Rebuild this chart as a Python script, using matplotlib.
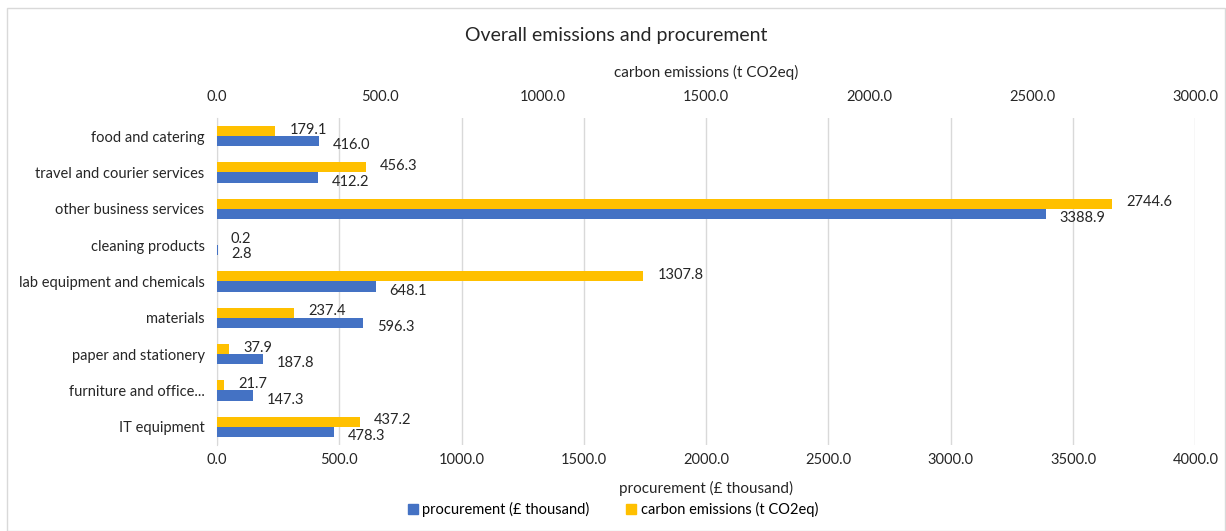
import numpy as np
import matplotlib.pyplot as plt
from matplotlib.patches import Rectangle

plt.rcParams['font.family'] = ['Lato', 'DejaVu Sans']

categories = ['food and catering', 'travel and courier services', 'other business services',
              'cleaning products', 'lab equipment and chemicals', 'materials',
              'paper and stationery', 'furniture and office...', 'IT equipment']
procurement = [416.0, 412.2, 3388.9, 2.8, 648.1, 596.3, 187.8, 147.3, 478.3]
carbon = [179.1, 456.3, 2744.6, 0.2, 1307.8, 237.4, 37.9, 21.7, 437.2]

blue = '#4472C4'
yellow = '#FFC000'
txt = '#262626'

fig = plt.figure(figsize=(12.26, 5.31), dpi=100)
ax = fig.add_axes([0.177, 0.162, 0.798, 0.616])
ax2 = ax.twiny()

y = np.arange(len(categories))
h = 0.28

# procurement on the bottom axis, carbon on the top axis
ax.barh(y + h / 2, procurement, height=h, color=blue, zorder=3)
ax2.barh(y - h / 2, carbon, height=h, color=yellow, zorder=3)

for yi, v in zip(y, procurement):
    ax.annotate(f'{v:.1f}', (v, yi + h / 2), xytext=(10, -3), textcoords='offset points',
                va='center', ha='left', fontsize=10.5, color=txt)
for yi, v in zip(y, carbon):
    ax2.annotate(f'{v:.1f}', (v, yi - h / 2), xytext=(10, 1), textcoords='offset points',
                 va='center', ha='left', fontsize=10.5, color=txt)

ax.set_xlim(0, 4000)
ax2.set_xlim(0, 3000)
ax.set_ylim(len(categories) - 0.5, -0.5)
ax.set_xticks(np.arange(0, 4001, 500))
ax2.set_xticks(np.arange(0, 3001, 500))
ax.set_xticklabels([f'{t:.1f}' for t in np.arange(0, 4001, 500)])
ax2.set_xticklabels([f'{t:.1f}' for t in np.arange(0, 3001, 500)])
ax.set_yticks(y)
ax.set_yticklabels(categories)

for a in (ax, ax2):
    a.tick_params(length=0, labelsize=10.5, colors=txt)
    for s in a.spines.values():
        s.set_visible(False)
ax.tick_params(axis='y', pad=9)
ax.tick_params(axis='x', pad=6)
ax2.tick_params(axis='x', pad=10)
ax.spines['left'].set_visible(True)
ax.spines['left'].set_color('#D9D9D9')
ax.xaxis.grid(True, color='#D9D9D9', linewidth=1, zorder=0)
ax.set_axisbelow(True)

ax.set_xlabel('procurement (£ thousand)', fontsize=11, color=txt, labelpad=10)
ax2.set_xlabel('carbon emissions (t CO2eq)', fontsize=11, color=txt, labelpad=9)

fig.text(0.503, 0.934, 'Overall emissions and procurement', ha='center', va='center',
         fontsize=14, color=txt)

handles = [Rectangle((0, 0), 1, 1, color=blue), Rectangle((0, 0), 1, 1, color=yellow)]
fig.legend(handles, ['procurement (£ thousand)', 'carbon emissions (t CO2eq)'],
           loc='center', bbox_to_anchor=(0.5, 0.04), ncol=2, frameon=False,
           fontsize=10.5, handlelength=0.7, handleheight=0.7, columnspacing=2.5,
           handletextpad=0.3)

fig.add_artist(Rectangle((0.006, 0.0), 0.993, 0.985, transform=fig.transFigure,
                         fill=False, edgecolor='#D9D9D9', linewidth=1))

fig.savefig('out.png', dpi=100)
